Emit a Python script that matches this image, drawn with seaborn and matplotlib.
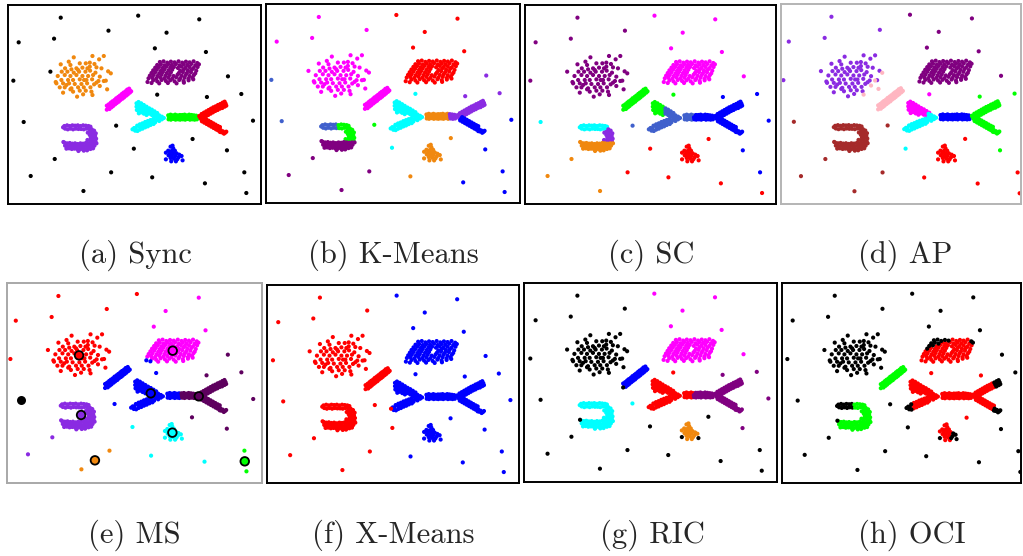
import matplotlib
matplotlib.use("Agg")
import matplotlib.pyplot as plt
import seaborn as sns
import pandas as pd

sns.set_style("white")

# ---------------------------------------------------------------------------
# Synthetic 2-D data set (x grows to the right, y grows downward)
# ---------------------------------------------------------------------------
noise_pts = [(183, 53), (415, 47), (598, 58), (326, 92), (500, 98), (57, 127),
             (163, 116), (465, 145), (618, 156), (152, 215), (41, 242), (684, 229),
             (472, 284), (621, 291), (724, 282), (72, 366), (349, 377), (759, 362),
             (578, 417), (402, 446), (681, 451), (165, 477), (93, 528), (334, 517),
             (457, 532), (733, 517), (615, 550), (251, 573), (739, 579)]

# Gaussian blob
blob = [(278, 168), (312, 168), (222, 172), (207, 185), (240, 190), (298, 178), (183, 193),
        (212, 195), (258, 190), (270, 188), (284, 192), (196, 205), (230, 205), (248, 203),
        (263, 205), (290, 202), (305, 205), (186, 215), (203, 215), (222, 218), (238, 215),
        (257, 215), (271, 212), (287, 218), (325, 214), (174, 228), (195, 225), (212, 228),
        (230, 225), (248, 228), (265, 228), (280, 225), (300, 230), (185, 240), (205, 240),
        (220, 240), (240, 238), (260, 240), (277, 238), (296, 243), (170, 250), (190, 250),
        (208, 250), (225, 252), (245, 252), (262, 250), (290, 248), (180, 262), (195, 262),
        (215, 265), (235, 262), (252, 262), (272, 262), (190, 278), (220, 275), (240, 272),
        (258, 272), (275, 275), (232, 290), (250, 283), (212, 268), (200, 255), (235, 210),
        (270, 200), (215, 208), (168, 246), (318, 242), (253, 240), (283, 253)]
blob_edge = [(333, 220), (312, 243), (300, 258), (322, 268), (278, 285)]

# Parallelogram
para = [(536, 184), (547, 188), (558, 185), (569, 187), (581, 184),
        (505, 193), (516, 195), (528, 192), (539, 196), (551, 193), (562, 195), (574, 192), (586, 196),
        (488, 204), (499, 200), (511, 203), (522, 201), (534, 204), (545, 200), (557, 203), (569, 201),
        (581, 204), (593, 201),
        (471, 209), (483, 212), (494, 208), (506, 211), (517, 209), (541, 212), (552, 208), (564, 211),
        (576, 209), (589, 212),
        (455, 219), (466, 217), (478, 220), (489, 216), (501, 219), (513, 217), (537, 219), (549, 216),
        (561, 219), (573, 217), (586, 220),
        (450, 227), (461, 225), (473, 228), (485, 224), (497, 227), (509, 225), (521, 228), (533, 224),
        (545, 227), (557, 225), (569, 228), (582, 225),
        (446, 235), (457, 233), (469, 236), (481, 232), (493, 235), (505, 233), (517, 236), (529, 232),
        (541, 235), (554, 233), (566, 236), (578, 233),
        (460, 241), (472, 244), (485, 240), (498, 243), (511, 241), (524, 244), (538, 240), (551, 243),
        (566, 241), (580, 238), (478, 250), (504, 249), (530, 250), (552, 248)]
para_edge = [(480, 186), (491, 184), (502, 188), (513, 185), (524, 187), (472, 195), (483, 193),
             (494, 196), (466, 203), (477, 201), (460, 211), (592, 189), (597, 193)]
para_low = [(443, 246), (455, 249)]

# Diagonal bar
bar_diag = [(325, 322), (331, 317), (337, 313), (342, 309), (348, 304), (353, 300), (359, 296),
            (364, 291), (370, 287), (375, 283), (381, 278), (386, 274), (390, 271),
            (321, 317), (327, 313), (333, 308), (338, 304), (344, 300), (349, 295), (355, 291),
            (360, 287), (366, 282), (371, 278), (377, 274), (382, 269), (388, 266),
            (329, 327), (335, 322), (340, 318), (346, 313), (351, 309), (357, 305), (362, 300),
            (368, 296), (373, 292), (379, 287), (384, 283), (390, 278), (394, 274)]
bar_diag_end = [(321, 329)]

# Arrow-head shape ">"
arrow_tip_up = [(410, 310), (410, 320), (411, 330), (416, 306), (416, 315), (416, 324), (416, 333),
                (417, 340), (424, 310), (424, 319), (424, 328), (424, 337), (432, 315), (432, 324),
                (432, 333), (432, 341), (440, 320), (440, 329), (440, 338), (440, 345)]
arrow_arm_up = [(448, 325), (448, 333), (448, 341), (456, 329), (456, 337), (456, 345), (464, 334),
                (464, 342), (464, 350), (472, 339), (472, 347)]
arrow_low = [(470, 342), (478, 346), (486, 350), (492, 354), (470, 351), (478, 354), (486, 358),
             (470, 360), (478, 363), (466, 367), (460, 357), (460, 365), (461, 372), (452, 360),
             (452, 368), (452, 375), (444, 363), (444, 371), (444, 379), (436, 366), (436, 374),
             (436, 382), (428, 370), (428, 378), (428, 386), (420, 373), (420, 381), (420, 389)]
arrow_low_tip = [(412, 377), (408, 385), (413, 393), (403, 384), (406, 392)]
arrow_stray = [(398, 388)]

# Horizontal bar
hbar_1 = [(505, 346), (512, 344), (519, 346), (526, 344), (533, 346), (507, 352), (514, 351),
          (521, 353), (528, 351), (506, 358), (513, 359), (520, 357), (527, 359)]
hbar_2 = [(540, 345), (534, 352), (541, 351), (535, 358), (541, 359)]
hbar_3 = [(547, 345), (554, 344), (561, 346), (568, 344), (548, 352), (555, 351), (562, 353),
          (569, 351), (549, 358), (556, 359), (563, 357), (570, 359)]
hbar_4 = [(575, 345), (582, 346), (589, 347), (576, 352), (583, 353), (590, 352), (577, 358),
          (584, 359), (591, 358)]

# Arrow-head shape "<"
chev_vertex = [(600, 352), (603, 357), (598, 348)]
chev_up = [(608, 348), (615, 344), (622, 340), (629, 336), (636, 332), (643, 328), (650, 325),
           (657, 321), (605, 342), (612, 338), (619, 334), (626, 330), (633, 326), (640, 322),
           (647, 319), (654, 315), (611, 353), (618, 349), (625, 345), (632, 341), (639, 337),
           (646, 333), (653, 330), (660, 326)]
chev_up_tip = [(664, 318), (671, 314), (677, 311), (661, 312), (668, 308), (674, 305), (667, 324),
               (674, 320), (679, 317)]
chev_low = [(609, 359), (616, 363), (623, 367), (630, 371), (637, 375), (644, 379), (651, 383),
            (657, 386), (606, 364), (613, 368), (620, 372), (627, 376), (634, 380), (641, 384),
            (648, 388), (654, 391), (612, 354), (619, 358), (626, 362), (633, 366), (640, 370),
            (647, 374), (654, 378), (660, 381)]
chev_low_tip = [(662, 390), (669, 394), (676, 398), (665, 397), (672, 401), (679, 395), (660, 396)]

# U shape
u_top = [(194, 378), (202, 376), (210, 378), (218, 376), (226, 377), (234, 376), (196, 386),
         (204, 388), (212, 386), (220, 388), (228, 386), (236, 387), (190, 382)]
u_top_right = [(242, 378), (250, 376), (258, 377), (266, 378), (244, 387), (252, 388), (260, 386),
               (268, 387), (272, 380)]
u_arc = [(276, 388), (283, 392), (288, 400), (278, 398), (270, 396), (286, 408), (278, 406),
         (270, 405), (289, 416), (281, 414), (273, 413), (264, 398), (287, 424), (279, 422),
         (271, 421), (263, 420)]
u_bottom = [(194, 428), (202, 430), (210, 429), (218, 431), (226, 430), (234, 432), (242, 430),
            (250, 431), (258, 429), (266, 430), (274, 431), (282, 430), (290, 430),
            (196, 437), (204, 439), (212, 437), (220, 439), (228, 438), (236, 440), (244, 438),
            (252, 440), (260, 438), (268, 439), (276, 438), (284, 437),
            (200, 446), (208, 445), (216, 447), (224, 446), (232, 447), (240, 448), (248, 447),
            (256, 448), (264, 446), (272, 447), (280, 445), (236, 453), (252, 452), (262, 451)]
u_out = [(191, 426)]

# Small blob
small = [(512, 440), (520, 445), (505, 452), (515, 453), (525, 452), (498, 458), (510, 460),
         (520, 460), (530, 460), (506, 466), (516, 468), (526, 468), (512, 474), (522, 476),
         (514, 484), (528, 484), (518, 437)]
small_edge_1 = [(538, 464), (545, 468), (536, 472), (532, 478)]
small_edge_2 = [(498, 478), (548, 481)]

SEGMENTS = {
    "G": blob, "Ge": blob_edge, "P": para, "Pe": para_edge, "Pl": para_low,
    "M": bar_diag, "Me": bar_diag_end,
    "Vt": arrow_tip_up, "Va": arrow_arm_up, "Vl": arrow_low, "Vlt": arrow_low_tip, "Vx": arrow_stray,
    "B1": hbar_1, "B2": hbar_2, "B3": hbar_3, "B4": hbar_4,
    "Rv": chev_vertex, "Ru": chev_up, "Rut": chev_up_tip, "Rl": chev_low, "Rlt": chev_low_tip,
    "Ut": u_top, "Utr": u_top_right, "Ua": u_arc, "Ub": u_bottom, "Uo": u_out,
    "S": small, "Se1": small_edge_1, "Se2": small_edge_2,
}

PALETTE = {"k": "#000000", "o": "#f0880f", "p": "#800080", "m": "#ff00ff", "c": "#00ffff",
           "g": "#00ff00", "r": "#ff0000", "b": "#0000ff", "v": "#8a2be2", "s": "#4060cc",
           "i": "#ffb6c1", "n": "#a52a2a", "d": "#5e005e"}

# Cluster assignments of each method (segment -> colour code)
def assign(default, **over):
    lab = {}
    for seg in SEGMENTS:
        lab[seg] = default[seg[0]]
    lab.update(over)
    return lab

labels_sync = assign({"G": "o", "P": "p", "M": "m", "V": "c", "B": "g", "R": "r", "U": "v", "S": "b"})
labels_kmeans = assign({"G": "m", "P": "r", "M": "m", "V": "c", "B": "o", "R": "v", "U": "p", "S": "o"},
                       B4="v", Rl="b", Rlt="b", Ut="s", Utr="g", Ua="g")
labels_sc = assign({"G": "p", "P": "m", "M": "g", "V": "s", "B": "b", "R": "b", "U": "o", "S": "r"},
                   Vt="g", B1="s", Ut="c", Utr="c", Ua="v")
labels_ap = assign({"G": "v", "P": "p", "M": "i", "V": "c", "B": "b", "R": "g", "U": "n", "S": "r"},
                   Ge="i", Vt="m", Va="m")
labels_ms = assign({"G": "r", "P": "m", "M": "b", "V": "b", "B": "b", "R": "d", "U": "v", "S": "c"},
                   Pl="b", B3="d", B4="d")
labels_xmeans = assign({"G": "r", "P": "b", "M": "r", "V": "b", "B": "b", "R": "b", "U": "r", "S": "b"},
                       Vx="r")
labels_ric = assign({"G": "k", "P": "m", "M": "b", "V": "r", "B": "p", "R": "p", "U": "c", "S": "o"},
                    Me="k", B1="r", Uo="k", Se2="k")
labels_oci = assign({"G": "k", "P": "r", "M": "g", "V": "r", "B": "r", "R": "r", "U": "g", "S": "r"},
                    Pe="k", Vlt="k", Vx="k", Rut="k", Rlt="k", Ut="k", Uo="k", Se1="k", Se2="k")

noise_sync = "kkkkkkkkkkkkkkkkkkkkkkkkkkkkk"
noise_kmeans = "mrrmrmmrrmsvcvvsgbocbpppobbpb"
noise_sc = "pmmpmppmmppmgbbcsbrrboorrbror"
noise_ap = "vppvpvvppvvpmggnngrcgnnnrrrnr"
noise_ms = "rrmrmrrmmrrdbddkbddcdvvocgcog"
noise_xmeans = "rbbrbrrbbrrbbbbrrbbrbrrrbbbrb"
noise_ric = "kmmkmkkmmkkmrppkcpkkpkkkkkkkk"
noise_oci = "kkkkkkkkkkkkrrkkkkrkkkkkkkkkk"

# Mean-shift modes
ms_centers = [(244, 231), (521, 217), (456, 345), (598, 354), (250, 410), (520, 463),
              (291, 546), (734, 549)]
ms_center_codes = ["r", "m", "b", "d", "v", "c", "o", "g"]
ms_single = [(72, 366)]

captions = ["(a) Sync", "(b) K-Means", "(c) SC", "(d) AP",
            "(e) MS", "(f) X-Means", "(g) RIC", "(h) OCI"]

# ---------------------------------------------------------------------------
W, H = 1023, 556
fig = plt.figure(figsize=(W / 100, H / 100), dpi=100)

panels = [
    # name, labels, noise, frame (x0, x1, y0, y1) px, xlim, ylim, frame colour, caption centre
    ("a", labels_sync, noise_sync, (8, 261, 5, 204), (25, 783), (612, 15), "black", (135, 255)),
    ("b", labels_kmeans, noise_kmeans, (266, 520, 4, 203), (25, 785), (612, 14), "black", (393, 255)),
    ("c", labels_sc, noise_sc, (525, 776, 5, 204), (25, 781), (612, 15), "black", (651, 255)),
    ("d", labels_ap, noise_ap, (781, 1021, 4, 204), (34, 743), (611, 15), "#b4b4b4", (905, 255)),
    ("e", labels_ms, noise_ms, (7, 262, 283, 483), (31, 785), (614, 14), "#a8a8a8", (134, 535)),
    ("f", labels_xmeans, noise_xmeans, (267, 519, 285, 483), (23, 785), (612, 15), "black", (393, 535)),
    ("g", labels_ric, noise_ric, (524, 777, 283, 482), (22, 785), (613, 15), "black", (652, 535)),
    ("h", labels_oci, noise_oci, (782, 1021, 283, 483), (25, 741), (612, 15), "black", (912, 535)),
]

for (name, labs, noise, frame, xlim, ylim, fcol, cap), text in zip(panels, captions):
    x0, x1, y0, y1 = frame
    ax = fig.add_axes([x0 / W, 1 - y1 / H, (x1 - x0) / W, (y1 - y0) / H])
    rows = []
    for (x, y), code in zip(noise_pts, noise):
        rows.append((x, y, code))
    for seg, pts in SEGMENTS.items():
        for x, y in pts:
            rows.append((x, y, labs[seg]))
    df = pd.DataFrame(rows, columns=["x", "y", "cluster"])
    sns.scatterplot(data=df, x="x", y="y", hue="cluster", palette=PALETTE, s=9,
                    linewidth=0, legend=False, ax=ax, zorder=2)
    if name == "e":
        cdf = pd.DataFrame([(x, y, c) for (x, y), c in zip(ms_centers, ms_center_codes)],
                           columns=["x", "y", "cluster"])
        sns.scatterplot(data=cdf, x="x", y="y", hue="cluster", palette=PALETTE, s=38,
                        edgecolor="black", linewidth=1.3, legend=False, ax=ax, zorder=3)
        sdf = pd.DataFrame(ms_single, columns=["x", "y"])
        sns.scatterplot(data=sdf, x="x", y="y", color="black", s=42, linewidth=0,
                        legend=False, ax=ax, zorder=3)
    ax.set_xlim(*xlim)
    ax.set_ylim(*ylim)
    ax.set_xticks([])
    ax.set_yticks([])
    ax.set_xlabel("")
    ax.set_ylabel("")
    for sp in ax.spines.values():
        sp.set_visible(True)
        sp.set_color(fcol)
        sp.set_linewidth(1.4)
    fig.text(cap[0] / W, 1 - cap[1] / H, text, ha="center", va="center",
             fontsize=22, family="cmr10")

fig.savefig("out.png", dpi=100)
